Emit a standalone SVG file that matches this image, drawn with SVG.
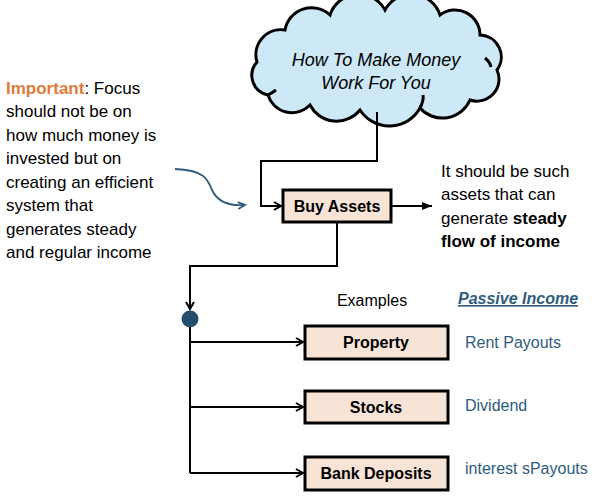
<svg xmlns="http://www.w3.org/2000/svg" width="598" height="496" viewBox="0 0 598 496">
<style>
text{font-family:"Liberation Sans",Arial,sans-serif;font-size:16px;fill:#000}
.n{font-size:17px}
.b{font-weight:bold}
.blue{fill:#2E5C7E}
.box{fill:#F7E4D7;stroke:#000;stroke-width:3}
.ln{fill:none;stroke:#000;stroke-width:2}
</style>
<defs>
<marker id="ah" markerWidth="10" markerHeight="10" refX="8" refY="5" orient="auto" markerUnits="userSpaceOnUse">
<path d="M1,1 L8,5 L1,9" fill="none" stroke="#000" stroke-width="2"/>
</marker>
<marker id="ahf" markerWidth="12" markerHeight="10" refX="10" refY="5" orient="auto" markerUnits="userSpaceOnUse">
<path d="M0,1 L10,5 L0,9 Z" fill="#000"/>
</marker>
<marker id="ahb" markerWidth="10" markerHeight="10" refX="8" refY="5" orient="auto" markerUnits="userSpaceOnUse">
<path d="M1,1.5 L8,5 L1,8.5" fill="none" stroke="#2E5C7E" stroke-width="1.8"/>
</marker>
</defs>
<g id="cloud">
<path d="M268,95 A20,20 0 0 1 257,62 A25,25 0 0 1 285,30 A27,27 0 0 1 330,15 A30,30 0 0 1 385,10 A30,30 0 0 1 440,15 A25,25 0 0 1 480,35 A22,22 0 0 1 497,70 A22,22 0 0 1 470,100 A30,30 0 0 1 420,108 A35,35 0 0 1 360,110 A30,30 0 0 1 310,105 A25,25 0 0 1 268,95 Z" fill="#CDE8F6" stroke="#000" stroke-width="3"/>
<path d="M268,95 Q272,93 276,90" fill="none" stroke="#000" stroke-width="3"/>
<path d="M485,58 Q490,62 491,67" fill="none" stroke="#000" stroke-width="3"/>
<path d="M420,108 Q424,100 423,95" fill="none" stroke="#000" stroke-width="3"/>
<text x="376" y="66" text-anchor="middle" font-style="italic" style="font-size:18px">How To Make Money</text>
<text x="376" y="89" text-anchor="middle" font-style="italic" style="font-size:18px">Work For You</text>
</g>
<g id="note">
<text class="n" x="6" y="94"><tspan class="b" style="fill:#E07B39">Important</tspan>: Focus</text>
<text class="n" x="6" y="117">should not be on</text>
<text class="n" x="6" y="141">how much money is</text>
<text class="n" x="6" y="164">invested but on</text>
<text class="n" x="6" y="188">creating an efficient</text>
<text class="n" x="6" y="211">system that</text>
<text class="n" x="6" y="235">generates steady</text>
<text class="n" x="6" y="258">and regular income</text>
</g>
<g id="buy-assets">
<rect class="box" x="283" y="190" width="108" height="32"/>
<text class="b" x="337" y="212" text-anchor="middle">Buy Assets</text>
</g>
<g id="goal-note">
<text class="n" x="441" y="177">It should be such</text>
<text class="n" x="441" y="200">assets that can</text>
<text class="n" x="441" y="224">generate <tspan class="b">steady</tspan></text>
<text class="n b" x="441" y="247">flow of income</text>
</g>
<g id="junction">
<circle cx="190" cy="319" r="8.5" fill="#234D6B"/>
</g>
<g id="headers">
<text x="372" y="306" text-anchor="middle">Examples</text>
<text x="458" y="304" class="b blue" font-style="italic" text-decoration="underline">Passive Income</text>
</g>
<g id="property">
<rect class="box" x="305" y="326" width="143" height="33"/>
<text class="b" x="376" y="348" text-anchor="middle">Property</text>
</g>
<g id="stocks">
<rect class="box" x="305" y="391" width="143" height="32"/>
<text class="b" x="376" y="413" text-anchor="middle">Stocks</text>
</g>
<g id="bank-deposits">
<rect class="box" x="305" y="457" width="143" height="33"/>
<text class="b" x="376" y="479" text-anchor="middle">Bank Deposits</text>
</g>
<g id="income-labels">
<text class="blue" x="465" y="348">Rent Payouts</text>
<text class="blue" x="465" y="411">Dividend</text>
<text class="blue" x="465" y="474">interest sPayouts</text>
</g>
<g id="connectors">
<path class="ln" d="M377,112 V161 H261 V206 H281" marker-end="url(#ah)"/>
<path class="ln" d="M391,206 H432" marker-end="url(#ahf)"/>
<path class="ln" d="M337,222 V266 H190 V309" marker-end="url(#ah)"/>
<path class="ln" d="M190,327 V473"/>
<path class="ln" d="M190,342 H303" marker-end="url(#ah)"/>
<path class="ln" d="M190,407 H303" marker-end="url(#ah)"/>
<path class="ln" d="M190,473 H303" marker-end="url(#ah)"/>
<path d="M175,169 C205,170 208,180 212,190 C218,203 232,206 245,205" fill="none" stroke="#2E5C7E" stroke-width="1.8" marker-end="url(#ahb)"/>
</g>
</svg>
